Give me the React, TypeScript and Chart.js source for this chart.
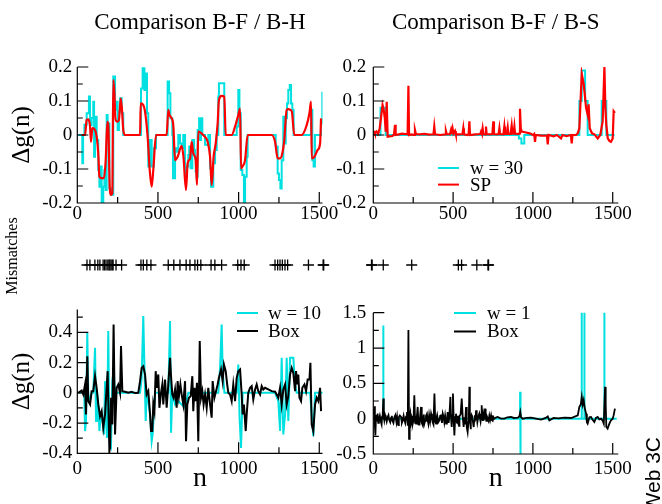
import React, { useEffect, useRef } from 'react';
import { Chart, registerables } from 'chart.js';

Chart.register(...registerables);
Chart.defaults.font.family = '"Liberation Serif", "Times New Roman", serif';
Chart.defaults.color = '#000';

const W = 662;
const H = 504;

const CYAN = 'rgb(0, 224, 224)';
const RED = 'rgb(255, 0, 0)';
const BLACK = '#000000';

// ---------- text ----------
const TITLE_LEFT = 'Comparison B-F / B-H';
const TITLE_RIGHT = 'Comparison B-F / B-S';
const Y_LABEL = 'Δg(n)';
const X_LABEL = 'n';
const STRIP_LABEL = 'Mismatches';
const CORNER_LABEL = 'Web 3C';
const LEG_TR = ['w = 30', 'SP'];
const LEG_BL = ['w = 10', 'Box'];
const LEG_BR = ['w = 1', 'Box'];

// ---------- ticks ----------
const X_TICKS = [0, 500, 1000, 1500];
const X_MINOR = [250, 750, 1250];
const TOP_Y_TICKS = [-0.2, -0.1, 0, 0.1, 0.2];
const TOP_Y_MINOR = [-0.15, -0.05, 0.05, 0.15];
const BL_Y_TICKS = [-0.4, -0.2, 0, 0.2, 0.4];
const BL_Y_MINOR = [-0.3, -0.1, 0.1, 0.3, 0.5];
const BR_Y_TICKS = [-0.5, 0, 0.5, 1, 1.5];
const BR_Y_MINOR = [-0.25, 0.25, 0.75, 1.25];

// ---------- data: [n, Δg] ----------
const TL_W30: [number, number][] = [
  [6,0],[25,0],[31,-0.083],[36,0],[44,0.03],[58,0.064],[72,0.113],[79,0.029],[89,0.05],[99,0.098],
  [104,-0.064],[110,0.054],[120,-0.015],[130,-0.103],[137,-0.152],[147,-0.093],[151,-0.2],[161,-0.152],
  [168,-0.103],[176,-0.162],[182,0.059],[188,0.034],[199,-0.157],[209,-0.176],[223,0.172],[234,0.074],
  [240,0.098],[250,0.015],[258,0.069],[265,0.108],[275,0.064],[285,0],[389,0],[395,0.137],[405,0.196],
  [416,0.132],[424,0.181],[432,0.064],[440,-0.093],[451,-0.015],[461,-0.093],[475,-0.039],[488,0],
  [554,0],[560,0.157],[569,0.123],[577,0.049],[589,0],[593,-0.127],[606,-0.039],[616,-0.049],[626,0],
  [637,-0.025],[647,-0.039],[657,0],[668,-0.123],[678,-0.093],[688,-0.059],[694,-0.034],[703,-0.098],
  [713,-0.015],[724,-0.044],[730,-0.064],[734,-0.108],[740,-0.123],[746,0.015],[755,0.049],[761,-0.015],
  [767,0.049],[775,0],[788,0],[792,-0.029],[802,-0.029],[812,0],[823,-0.098],[829,-0.152],[843,-0.083],
  [854,-0.044],[864,0],[874,0.113],[878,0.152],[905,0.152],[911,0],[967,0],[988,0.025],[998,0.132],
  [1005,0.064],[1013,-0.103],[1023,-0.118],[1033,-0.2],[1040,-0.123],[1050,-0.064],[1056,0],[1226,0],
  [1230,-0.034],[1242,-0.113],[1250,-0.132],[1259,-0.157],[1267,-0.074],[1277,0.054],[1284,-0.025],
  [1292,0.049],[1300,0.093],[1308,0.132],[1317,0.147],[1325,0.093],[1333,0.074],[1341,0],[1432,0],
  [1449,0.074],[1457,-0.074],[1465,-0.093],[1473,0],[1494,0],[1511,0.034],[1519,0.127]
];

const TL_SP: [number, number][] = [
  [27,0],[48,0],[58,0.044],[68,0.046],[79,0.025],[85,-0.02],[93,0.02],[110,0.015],[120,-0.005],
  [130,-0.054],[137,-0.123],[151,-0.127],[165,-0.127],[176,-0.074],[186,0.039],[192,0.03],[201,-0.152],
  [209,-0.176],[217,-0.172],[223,0.162],[230,0.123],[236,0.049],[248,0.039],[258,0.044],[269,0.108],
  [277,0.074],[285,0.015],[296,0],[389,0],[393,0.093],[409,0.088],[420,0.069],[436,-0.005],[449,-0.103],
  [461,-0.152],[471,-0.103],[488,0],[554,0],[564,0.074],[571,0.059],[585,0.049],[595,0.029],[606,-0.074],
  [622,-0.064],[647,-0.032],[658,-0.064],[674,-0.162],[684,-0.083],[699,-0.069],[709,-0.02],[719,-0.054],
  [734,-0.074],[742,-0.147],[750,0.01],[770,0.005],[790,-0.005],[808,-0.02],[823,-0.064],[833,-0.147],
  [845,-0.064],[858,-0.025],[870,0.034],[878,0.103],[895,0.115],[911,0.113],[920,0],[957,0],[978,0.025],
  [998,0.059],[1009,0.078],[1015,-0.098],[1023,-0.093],[1040,-0.074],[1056,0],[1205,0],[1226,-0.02],
  [1242,-0.069],[1257,-0.069],[1271,-0.054],[1283,-0.015],[1298,0.074],[1310,0.076],[1320,0.074],
  [1330,0.069],[1345,0],[1391,0],[1422,0.029],[1439,0.064],[1449,0.098],[1453,-0.069],[1470,-0.064],
  [1490,-0.044],[1505,-0.025],[1511,0.049]
];

const TR_W30: [number, number][] = [
  [0,0],[45,0.08],[78,0],[912,-0.01],[928,-0.025],[946,0],[1291,0.1],[1306,0.19],[1327,0.1],
  [1343,0],[1431,0.1],[1460,0],[1512,0]
];

const TR_SP: [number, number][] = [
  [5,0.012],[10,0.005],[20,0.01],[30,0.003],[40,0.02],[48,0.05],[58,0.088],[65,0.075],[72,0.05],[78,0.01],
  [84,0.098],[90,-0.005],[100,-0.004],[120,-0.003],[130,0.002],[136,0.03],[140,0],[160,0.002],[180,0.004],
  [200,0.003],[215,0.002],[220,0.145],[224,0],[240,0.002],[255,0],[261,0.015],[267,0.003],[290,0.002],
  [320,0.003],[350,0.001],[377,0.002],[382,0.025],[387,0.002],[420,0],[450,0.002],[455,0.012],[460,0.003],
  [480,0.002],[487,0.015],[492,0.003],[497,0.018],[502,0.004],[512,0.012],[517,0.002],[540,0.002],
  [559,0.003],[564,0.02],[568,0.002],[590,0],[597,0.002],[602,0.04],[606,0],[640,0.002],[670,0.003],
  [675,0.01],[680,0.004],[685,0.02],[690,0.003],[700,0.002],[706,0.025],[710,0.003],[730,0.002],
  [746,0.003],[752,0.04],[756,0.003],[775,0.002],[785,0.003],[790,0.02],[794,0.003],[815,0.002],
  [821,0.025],[825,0.003],[836,0.003],[842,0.022],[846,0.003],[860,0.003],[867,0.028],[872,0.004],
  [879,0.004],[884,0.025],[888,0.004],[910,0.003],[915,0.005],[919,0.077],[924,0.02],[930,0.01],
  [950,0.008],[980,0.005],[1000,0],[1008,0.003],[1013,-0.02],[1018,0],[1050,-0.002],[1088,-0.002],
  [1093,-0.028],[1098,0],[1130,-0.004],[1150,0],[1176,-0.01],[1185,0],[1210,-0.003],[1238,0],
  [1243,-0.025],[1248,0],[1270,0],[1281,0.005],[1291,0.02],[1306,0.18],[1318,0.15],[1327,0.11],
  [1333,0.08],[1343,0.06],[1349,0.09],[1356,0.02],[1370,0.005],[1385,0.002],[1406,-0.01],[1422,0],
  [1437,0.04],[1448,0.2],[1454,0.08],[1460,0.03],[1469,-0.01],[1480,-0.018],[1489,-0.02],[1500,-0.01],
  [1506,0.07],[1514,0.065]
];

const BL_W10: [number, number][] = [
  [6,0],[43,0],[48,-0.253],[54,-0.187],[62,0.397],[68,-0.011],[79,-0.055],[89,0],[99,0],[110,0.298],
  [116,-0.187],[122,0],[130,-0.077],[137,-0.253],[147,-0.143],[155,-0.165],[166,-0.275],[172,0.077],
  [178,-0.143],[184,-0.298],[192,0.408],[199,-0.298],[209,-0.342],[217,0.077],[225,0.143],[234,0],
  [389,0],[399,0.099],[409,0.507],[415,0.231],[424,-0.187],[430,0],[440,-0.055],[451,-0.143],
  [461,-0.32],[467,-0.275],[482,0],[564,0],[575,0.474],[581,-0.264],[589,0],[606,-0.077],[626,-0.055],
  [647,-0.077],[668,-0.099],[688,0],[874,0],[885,0.165],[895,0.452],[901,0.143],[912,0],[988,0],
  [998,0.187],[1006,-0.165],[1015,-0.364],[1025,0],[1226,0],[1246,-0.055],[1257,-0.253],[1267,0.231],
  [1277,-0.275],[1288,-0.143],[1298,0.231],[1308,-0.187],[1319,0.231],[1329,0.231],[1339,0.231],
  [1350,0.055],[1360,0],[1443,0],[1453,-0.143],[1463,-0.286],[1474,0],[1526,0]
];

const BL_BOX: [number, number][] = [
  [6,0],[27,0.015],[37,-0.011],[48,0.055],[54,-0.143],[62,0.242],[68,-0.055],[79,-0.077],[89,0.011],
  [99,0.011],[110,0.11],[120,0.033],[130,-0.077],[141,-0.154],[151,-0.121],[161,-0.231],[172,-0.143],
  [182,0.033],[188,0.143],[199,-0.386],[203,-0.364],[209,-0.033],[217,-0.209],[225,0.452],[234,-0.275],
  [244,0.033],[254,0.055],[265,0],[271,0.309],[279,0.011],[296,0.007],[316,0],[337,0.007],[358,-0.002],
  [378,0],[389,0.077],[399,0.165],[409,0.176],[420,0.121],[430,-0.011],[440,0.011],[451,-0.143],
  [457,-0.253],[465,-0.253],[471,-0.077],[478,-0.121],[486,0.143],[492,0.033],[502,0.121],[509,-0.099],
  [519,0],[527,0.055],[533,-0.077],[544,0.088],[554,-0.099],[564,0.055],[575,0.231],[581,0.11],
  [589,-0.011],[597,-0.033],[606,0.022],[616,-0.099],[622,0.077],[630,-0.022],[639,0.055],[647,-0.011],
  [657,-0.077],[668,0.077],[674,-0.32],[682,-0.077],[692,-0.033],[703,-0.022],[713,0.11],[719,-0.121],
  [726,0.033],[734,-0.055],[742,0.066],[750,-0.32],[759,0.342],[767,-0.033],[775,0.011],[783,-0.077],
  [792,-0.011],[802,-0.099],[812,0.033],[823,-0.077],[833,-0.165],[839,0.077],[850,-0.033],[860,0.011],
  [870,0.055],[878,0.099],[891,0.154],[901,0.077],[909,0.187],[920,0.143],[928,0.066],[936,0],
  [947,-0.011],[957,-0.055],[967,0.055],[978,-0.055],[988,0.099],[998,0.143],[1009,0.154],[1019,-0.011],
  [1025,-0.143],[1033,-0.077],[1044,-0.253],[1050,-0.143],[1060,0],[1071,0.033],[1081,0.044],
  [1091,-0.044],[1102,0.022],[1112,0.055],[1122,0.011],[1133,-0.011],[1143,0.044],[1153,0.022],
  [1164,0.033],[1184,0.022],[1205,0.011],[1226,0.007],[1236,-0.011],[1246,-0.033],[1257,0.033],
  [1267,-0.077],[1277,0.022],[1288,0.055],[1298,-0.077],[1308,-0.022],[1319,0.121],[1329,0.165],
  [1339,0.132],[1350,0.011],[1356,0.143],[1364,0.055],[1370,0.121],[1377,-0.033],[1387,-0.055],
  [1395,0.033],[1408,0.055],[1418,0.011],[1428,0.088],[1439,0.088],[1445,0.198],[1453,-0.209],
  [1463,-0.253],[1474,-0.077],[1484,-0.033],[1494,-0.055],[1505,0.033],[1511,-0.121]
];

const BR_W1: [number, number][] = [
  [0,0],[61,0],[62,1.32],[64,0],[919,0],[920,0.38],[922,-0.6],[923,0],[1304,0],[1305,1.6],[1307,0],
  [1321,0],[1322,1.6],[1324,0],[1446,0],[1447,1.6],[1449,0],[1525,0]
];

const BR_BOX: [number, number][] = [
  [3,0.05],[7,0.175],[10,-0.1],[13,-0.237],[17,0.05],[22,-0.04],[27,0.071],[31,-0.06],[35,-0.02],
  [41,0.04],[48,-0.047],[52,-0.08],[55,0.03],[59,0.06],[63,0.284],[66,0.02],[69,-0.024],[74,0.05],
  [78,0.02],[84,-0.04],[90,0.024],[95,0.05],[100,-0.02],[106,-0.05],[111,0.01],[116,0.04],[120,-0.03],
  [126,-0.06],[132,0.02],[138,0.05],[145,-0.05],[149,0.02],[153,-0.071],[157,-0.09],[160,0.02],
  [166,0.045],[174,0.024],[179,-0.06],[184,-0.03],[190,0.04],[195,-0.024],[200,-0.06],[205,0.03],
  [211,0.095],[216,-0.1],[220,1.254],[224,-0.284],[228,0.02],[232,0.071],[236,-0.08],[240,-0.05],
  [244,0.04],[247,-0.071],[252,-0.02],[257,0.331],[262,-0.06],[265,0.04],[268,-0.071],[273,0.03],
  [278,0.166],[283,-0.08],[286,0.02],[289,-0.095],[294,0.05],[299,0.166],[302,0.02],[305,-0.06],
  [309,-0.09],[312,0.03],[316,0.06],[320,-0.071],[325,-0.03],[330,0.04],[336,0.07],[341,-0.024],
  [345,-0.07],[350,0.05],[356,-0.04],[362,0.071],[367,0.02],[372,-0.05],[377,-0.08],[383,0.355],
  [388,-0.04],[393,-0.071],[397,0.02],[400,0.05],[407,-0.05],[414,-0.024],[419,0.04],[424,0.06],
  [430,-0.06],[435,0.071],[440,0.03],[445,-0.05],[450,0.04],[456,-0.071],[461,-0.03],[466,0.095],
  [472,-0.06],[477,0.05],[483,0.308],[487,0.02],[491,-0.118],[495,0.05],[499,0.355],[504,-0.04],
  [508,-0.237],[513,0.02],[518,0.071],[521,-0.03],[525,-0.06],[529,0.04],[533,-0.071],[537,-0.1],
  [540,0.04],[547,0.06],[554,0.284],[560,0.03],[566,-0.118],[570,0.02],[574,-0.08],[578,0.04],
  [581,0.166],[584,0.02],[587,-0.12],[591,-0.189],[596,-0.05],[599,0.06],[602,0.45],[605,0.05],
  [607,-0.05],[610,-0.15],[612,-0.024],[616,0.05],[620,0.03],[625,-0.06],[629,-0.118],[632,-0.03],
  [636,0.05],[640,-0.02],[644,0.118],[648,0.03],[652,-0.05],[658,0.03],[664,0.071],[668,0.01],
  [672,-0.04],[676,0.03],[679,0.19],[683,0.02],[686,-0.03],[689,0.04],[692,-0.024],[696,0.03],
  [700,0.142],[704,0.02],[708,-0.03],[712,0.03],[717,0],[722,-0.03],[727,0.04],[732,-0.02],
  [738,0.047],[743,-0.02],[748,-0.03],[753,0.02],[758,0],[768,0.015],[779,0.024],[800,0],[821,0],
  [840,0.02],[863,0.024],[880,0.01],[905,0.014],[915,0.03],[921,0.095],[926,0.02],[936,0],[960,0.01],
  [988,0.014],[1020,0],[1051,-0.014],[1080,0.01],[1093,0.033],[1103,-0.024],[1130,0.01],[1160,0.005],
  [1197,0.014],[1240,0.01],[1281,0.047],[1291,0.166],[1300,0.2],[1306,0.308],[1312,0.2],[1318,0.26],
  [1325,0.15],[1333,0.071],[1338,-0.05],[1343,-0.071],[1354,0.02],[1364,0.024],[1375,-0.02],
  [1385,-0.047],[1395,0.01],[1406,0.024],[1416,-0.01],[1427,0],[1437,-0.03],[1444,-0.071],[1448,0.2],
  [1452,0.45],[1456,0.2],[1460,-0.118],[1468,-0.142],[1479,-0.071],[1489,-0.024],[1500,0],[1506,0.05],
  [1514,0.142]
];

// mismatch positions (strip axis units 0..1500)
const MISMATCH_N = [
  92, 102, 119, 129, 136, 147, 152, 157, 163, 167, 170, 174, 178, 181, 191, 210,
  276, 284, 296, 310,
  369, 388, 409, 430, 443, 460, 469, 480, 515, 528, 551,
  606, 617, 628,
  733, 742, 750, 758, 767, 776,
  847, 897, 899,
  1062, 1064, 1102,
  1199,
  1358, 1369, 1421, 1459, 1461
];

// ---------- plugins ----------
function axesPlugin(xMinor: number[], yMinor: number[]) {
  return {
    id: 'xmAxes',
    afterDatasetsDraw(chart: any) {
      const { ctx, chartArea: a } = chart;
      const xs = chart.scales.x;
      const ys = chart.scales.y;
      ctx.save();
      ctx.strokeStyle = '#000';
      ctx.lineWidth = 1.2;
      ctx.beginPath();
      ctx.moveTo(a.left, a.top);
      ctx.lineTo(a.left, a.bottom);
      ctx.lineTo(a.right, a.bottom);
      xs.ticks.forEach((t: any) => {
        const p = xs.getPixelForValue(t.value);
        ctx.moveTo(p, a.bottom);
        ctx.lineTo(p, a.bottom - 11);
      });
      xMinor.forEach((v) => {
        const p = xs.getPixelForValue(v);
        ctx.moveTo(p, a.bottom);
        ctx.lineTo(p, a.bottom - 6);
      });
      ys.ticks.forEach((t: any) => {
        const p = ys.getPixelForValue(t.value);
        ctx.moveTo(a.left, p);
        ctx.lineTo(a.left + 11, p);
      });
      yMinor.forEach((v) => {
        const p = ys.getPixelForValue(v);
        if (p < a.top - 0.5) return;
        ctx.moveTo(a.left, p);
        ctx.lineTo(a.left + 5.5, p);
      });
      ctx.stroke();
      ctx.restore();
    },
  };
}

function legendPlugin(x: number, y: number, row: number, len: number, gap: number) {
  return {
    id: 'xmLegend',
    afterDraw(chart: any) {
      const ctx = chart.ctx;
      ctx.save();
      chart.data.datasets.forEach((ds: any, i: number) => {
        const yy = y + i * row;
        ctx.strokeStyle = ds.borderColor;
        ctx.lineWidth = 2;
        ctx.beginPath();
        ctx.moveTo(x, yy);
        ctx.lineTo(x + len, yy);
        ctx.stroke();
        ctx.fillStyle = '#000';
        ctx.font = '19px "Liberation Serif", serif';
        ctx.textAlign = 'left';
        ctx.textBaseline = 'middle';
        ctx.fillText(ds.label, x + len + gap, yy + 1);
      });
      ctx.restore();
    },
  };
}

function textPlugin(items: any[]) {
  return {
    id: 'xmText',
    afterDraw(chart: any) {
      const ctx = chart.ctx;
      items.forEach((it) => {
        ctx.save();
        ctx.translate(it.x, it.y);
        ctx.rotate(it.rot);
        ctx.font = it.font;
        ctx.fillStyle = '#000';
        ctx.textAlign = it.align;
        ctx.textBaseline = it.baseline;
        ctx.fillText(it.text, 0, 0);
        ctx.restore();
      });
    },
  };
}

const pts = (arr: [number, number][]) => arr.map(([x, y]) => ({ x, y }));

function panel(g: any, datasets: any[], legend: any) {
  const yW = g.yTitle ? g.left : 50;
  const padLeft = g.left - yW;
  const titleLH = 23 * 1.2;
  return {
    type: 'line',
    data: { datasets },
    options: {
      responsive: false,
      animation: false,
      devicePixelRatio: 1,
      events: [],
      layout: {
        padding: {
          left: padLeft,
          right: W - g.right,
          top: g.title ? 0 : g.top,
          bottom: H - g.bottom - g.xH,
        },
      },
      plugins: {
        legend: { display: false },
        tooltip: { enabled: false },
        title: g.title
          ? {
              display: true,
              text: g.title,
              fullSize: false,
              color: '#000',
              font: { size: 23, weight: 'normal' },
              padding: { top: 8.7, bottom: g.top - 8.7 - titleLH },
            }
          : { display: false },
      },
      elements: { point: { radius: 0 } },
      scales: {
        x: {
          type: 'linear',
          min: 0,
          max: g.xMax,
          grid: { display: false, drawTicks: false },
          border: { display: false },
          ticks: {
            padding: g.xPad,
            font: { size: 19 },
            maxRotation: 0,
            autoSkip: false,
            callback: (v: any) => String(v),
          },
          afterBuildTicks: (s: any) => {
            s.ticks = X_TICKS.map((value) => ({ value }));
          },
          afterFit: (s: any) => {
            s.height = g.xH;
            s.paddingLeft = 0;
            s.paddingRight = 0;
          },
          title: g.xTitle
            ? { display: true, text: X_LABEL, font: { size: 28 }, padding: { top: 0, bottom: g.xTitlePad } }
            : { display: false },
        },
        y: {
          type: 'linear',
          min: g.yMin,
          max: g.yMax,
          grid: { display: false, drawTicks: false },
          border: { display: false },
          ticks: {
            padding: g.yPad,
            font: { size: 19 },
            autoSkip: false,
            callback: (v: any) => String(v),
          },
          afterBuildTicks: (s: any) => {
            s.ticks = g.yTicks.map((value: number) => ({ value }));
          },
          afterFit: (s: any) => {
            s.width = yW;
            s.paddingTop = 0;
            s.paddingBottom = 0;
          },
          title: g.yTitle
            ? { display: true, text: Y_LABEL, font: { size: 25 }, padding: { top: 7, bottom: 0 } }
            : { display: false },
        },
      },
    },
    plugins: legend ? [axesPlugin(X_MINOR, g.yMinor), legendPlugin(legend.x, legend.y, legend.row, legend.len, legend.gap)] : [axesPlugin(X_MINOR, g.yMinor)],
  };
}

function lineDs(label: string, data: [number, number][], color: string, order: number, extra: any = {}) {
  return {
    label,
    data: pts(data),
    borderColor: color,
    backgroundColor: color,
    borderWidth: 2,
    pointRadius: 0,
    fill: false,
    tension: 0,
    order,
    ...extra,
  };
}

function buildConfigs() {
  const tl = panel(
    { left: 77.3, right: 322.5, top: 67, bottom: 203, xMax: 1520, yMin: -0.2, yMax: 0.2, yTicks: TOP_Y_TICKS, yMinor: TOP_Y_MINOR, yPad: 5, xPad: 0, xH: 25, yTitle: true, xTitle: false, title: TITLE_LEFT },
    [
      lineDs('w = 30', TL_W30, CYAN, 1, { stepped: true }),
      lineDs('SP', TL_SP, RED, 0, { cubicInterpolationMode: 'monotone', borderWidth: 2.2 }),
    ],
    null
  );
  const tr = panel(
    { left: 373.3, right: 618.3, top: 67, bottom: 203, xMax: 1535, yMin: -0.2, yMax: 0.2, yTicks: TOP_Y_TICKS, yMinor: TOP_Y_MINOR, yPad: 7, xPad: 0, xH: 25, yTitle: false, xTitle: false, title: TITLE_RIGHT },
    [
      lineDs(LEG_TR[0], TR_W30, CYAN, 1, { stepped: true }),
      lineDs(LEG_TR[1], TR_SP, RED, 0, { borderWidth: 2.2 }),
    ],
    { x: 438, y: 168, row: 16.6, len: 21, gap: 11 }
  );
  const bl = panel(
    { left: 77.3, right: 322.5, top: 309.6, bottom: 453.3, xMax: 1520, yMin: -0.4, yMax: 0.55, yTicks: BL_Y_TICKS, yMinor: BL_Y_MINOR, yPad: 5, xPad: 4, xH: 45, xTitlePad: 2.6, yTitle: true, xTitle: true },
    [
      lineDs(LEG_BL[0], BL_W10, CYAN, 1),
      lineDs(LEG_BL[1], BL_BOX, BLACK, 0),
    ],
    { x: 237, y: 313, row: 18, len: 21, gap: 10 }
  );
  const br = panel(
    { left: 373.3, right: 618.3, top: 312.7, bottom: 454, xMax: 1535, yMin: -0.5, yMax: 1.5, yTicks: BR_Y_TICKS, yMinor: BR_Y_MINOR, yPad: 7, xPad: 3.5, xH: 45, xTitlePad: 3.3, yTitle: false, xTitle: true },
    [
      lineDs(LEG_BR[0], BR_W1, CYAN, 1),
      lineDs(LEG_BR[1], BR_BOX, BLACK, 0, { borderWidth: 1.8 }),
    ],
    { x: 454, y: 313, row: 18.5, len: 22, gap: 11 }
  );
  const strip = {
    type: 'scatter',
    data: {
      datasets: [
        {
          label: STRIP_LABEL,
          data: MISMATCH_N.map((x) => ({ x, y: 0 })),
          pointStyle: 'cross',
          pointRadius: 5.5,
          borderColor: '#000',
          backgroundColor: '#000',
          borderWidth: 1.3,
        },
      ],
    },
    options: {
      responsive: false,
      animation: false,
      devicePixelRatio: 1,
      events: [],
      layout: { padding: { left: 60, right: W - 500, top: 255, bottom: H - 275 } },
      plugins: { legend: { display: false }, tooltip: { enabled: false } },
      scales: {
        x: { type: 'linear', display: false, min: 0, max: 1500 },
        y: { type: 'linear', display: false, min: -1, max: 1 },
      },
    },
    plugins: [
      textPlugin([
        { text: STRIP_LABEL, x: 13, y: 256, rot: -Math.PI / 2, font: '16px "Liberation Serif", serif', align: 'center', baseline: 'middle' },
        { text: CORNER_LABEL, x: 660, y: 437, rot: -Math.PI / 2, font: '21px "Liberation Sans", Arial, sans-serif', align: 'right', baseline: 'alphabetic' },
      ]),
    ],
  };
  return [tl, tr, strip, bl, br];
}

export default function App() {
  const refs = useRef<(HTMLCanvasElement | null)[]>([]);
  useEffect(() => {
    const configs = buildConfigs();
    const charts = configs.map((cfg: any, i: number) => new Chart(refs.current[i] as HTMLCanvasElement, cfg));
    return () => charts.forEach((c) => c.destroy());
  }, []);
  return (
    <div style={{ position: 'fixed', left: 0, top: 0, width: W, height: H, background: '#fff', overflow: 'hidden' }}>
      {[0, 1, 2, 3, 4].map((i) => (
        <canvas
          key={i}
          ref={(el) => {
            refs.current[i] = el;
          }}
          width={W}
          height={H}
          style={{ position: 'absolute', left: 0, top: 0, width: W, height: H }}
        />
      ))}
    </div>
  );
}
